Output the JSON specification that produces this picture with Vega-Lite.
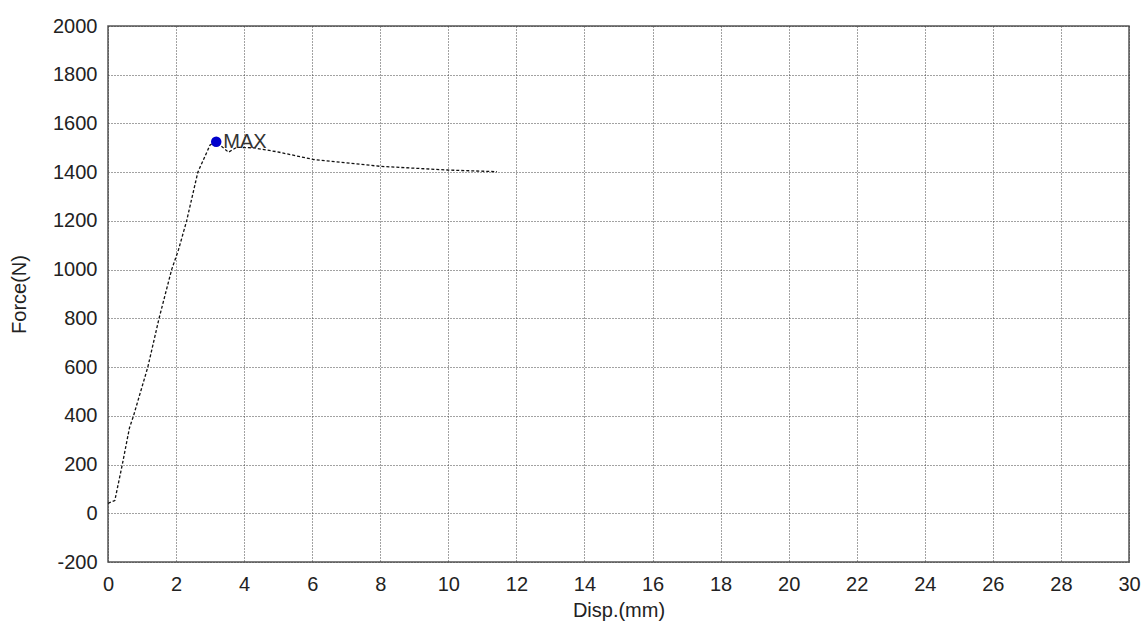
{
  "$schema": "https://vega.github.io/schema/vega-lite/v6.json",
  "autosize": {"type": "none"},
  "padding": {"left": 108, "top": 26, "right": 16, "bottom": 64},
  "width": 1021,
  "height": 536,
  "background": "white",
  "config": {
    "view": {"stroke": "#555555", "strokeWidth": 1.5},
    "font": "Liberation Sans",
    "axis": {
      "domain": false,
      "ticks": false,
      "grid": true,
      "gridColor": "#444444",
      "gridDash": [1, 2],
      "gridWidth": 1,
      "labelFlush": false,
      "labelFont": "Liberation Sans",
      "labelFontSize": 20,
      "labelColor": "#222222",
      "titleFont": "Liberation Sans",
      "titleFontSize": 20,
      "titleFontWeight": "normal",
      "titleColor": "#222222"
    }
  },
  "datasets": {
    "curve": [
      {"disp": 0.0, "force": 41},
      {"disp": 0.2, "force": 52},
      {"disp": 0.42, "force": 200},
      {"disp": 0.63, "force": 350},
      {"disp": 0.75, "force": 400},
      {"disp": 1.17, "force": 600},
      {"disp": 1.5, "force": 800},
      {"disp": 1.87, "force": 1000},
      {"disp": 2.07, "force": 1081},
      {"disp": 2.31, "force": 1200},
      {"disp": 2.64, "force": 1400},
      {"disp": 3.0, "force": 1512},
      {"disp": 3.18, "force": 1525},
      {"disp": 3.54, "force": 1482},
      {"disp": 3.78, "force": 1502},
      {"disp": 4.27, "force": 1500},
      {"disp": 4.96, "force": 1484},
      {"disp": 6.04, "force": 1452},
      {"disp": 8.0, "force": 1424},
      {"disp": 9.96, "force": 1409},
      {"disp": 11.43, "force": 1402}
    ],
    "peak": [{"disp": 3.18, "force": 1525, "label": "MAX"}]
  },
  "layer": [
    {
      "data": {"name": "curve"},
      "mark": {"type": "line", "color": "#111111", "strokeWidth": 1.3, "strokeDash": [3, 2]},
      "encoding": {
        "x": {
          "field": "disp", "type": "quantitative",
          "scale": {"domain": [0, 30], "nice": false},
          "axis": {"values": [0,2,4,6,8,10,12,14,16,18,20,22,24,26,28,30], "labelExpr": "'' + datum.value", "title": "Disp.(mm)", "labelPadding": 12, "titlePadding": 6}
        },
        "y": {
          "field": "force", "type": "quantitative",
          "scale": {"domain": [-200, 2000], "nice": false},
          "axis": {"values": [-200,0,200,400,600,800,1000,1200,1400,1600,1800,2000], "labelExpr": "'' + datum.value", "title": "Force(N)", "labelPadding": 11, "titlePadding": 23}
        }
      }
    },
    {
      "data": {"name": "peak"},
      "mark": {"type": "point", "filled": true, "color": "#0000cc", "size": 110, "opacity": 1},
      "encoding": {
        "x": {"field": "disp", "type": "quantitative"},
        "y": {"field": "force", "type": "quantitative"}
      }
    },
    {
      "data": {"name": "peak"},
      "mark": {"type": "text", "align": "left", "baseline": "middle", "dx": 7, "fontSize": 20, "color": "#333333", "font": "Liberation Sans"},
      "encoding": {
        "x": {"field": "disp", "type": "quantitative"},
        "y": {"field": "force", "type": "quantitative"},
        "text": {"field": "label"}
      }
    }
  ]
}
